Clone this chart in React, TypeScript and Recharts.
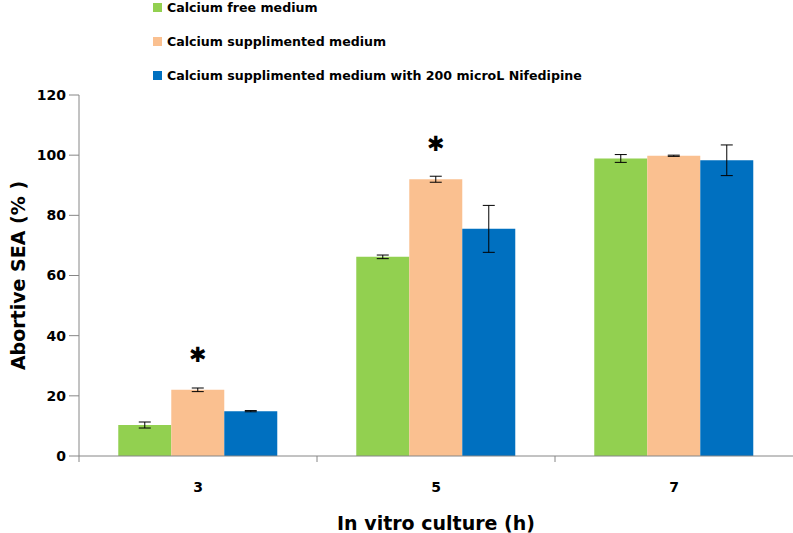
import { Bar, BarChart, ErrorBar, LabelList, XAxis, YAxis } from 'recharts';

const categories = ['3', '5', '7'];
const freeValues = [10.3, 66.2, 98.9];
const freeErrors = [1.0, 0.6, 1.3];
const suppValues = [22.0, 92.0, 99.8];
const suppErrors = [0.6, 1.0, 0.2];
const nifeValues = [14.9, 75.5, 98.3];
const nifeErrors = [0.2, 7.8, 5.1];
const significant = [true, true, false];
const yTicks = [0, 20, 40, 60, 80, 100, 120];

const series = [
  { key: 'free', name: 'Calcium free medium', color: '#92D050' },
  { key: 'supp', name: 'Calcium supplimented medium', color: '#FAC090' },
  { key: 'nife', name: 'Calcium supplimented medium with 200 microL Nifedipine', color: '#0070C0' },
];

const data = categories.map((hour, i) => ({
  hour,
  free: freeValues[i],
  freeErr: freeErrors[i],
  supp: suppValues[i],
  suppErr: suppErrors[i],
  nife: nifeValues[i],
  nifeErr: nifeErrors[i],
  sig: significant[i],
}));

const font = '"DejaVu Sans", Verdana, sans-serif';
const axisColor = '#868686';

// legend sits above the plot, drawn as plain html so it takes no room from the chart
function LegendBox() {
  return (
    <div
      style={{
        position: 'absolute',
        top: -10,
        left: 153,
        fontFamily: font,
        fontWeight: 'bold',
        fontSize: 12.6,
        color: '#000',
      }}
    >
      {series.map((s) => (
        <div key={s.key} style={{ display: 'flex', alignItems: 'center', height: 34 }}>
          <span style={{ width: 9, height: 9, background: s.color, marginRight: 5 }} />
          <span>{s.name}</span>
        </div>
      ))}
    </div>
  );
}

function CategoryTick(props: any) {
  const { x, y, payload } = props;
  const edge = x - (payload.offset ?? 0);
  return (
    <g>
      <line x1={edge} y1={y - 8} x2={edge} y2={y - 2} stroke={axisColor} />
      <text x={x} y={y + 28} textAnchor="middle" fontFamily={font} fontWeight="bold" fontSize={14} fill="#000">
        {payload.value}
      </text>
    </g>
  );
}

function Asterisk(props: any) {
  const { x, y, width, index } = props;
  if (!data[index]?.sig) return null;
  return (
    <text
      x={x + width / 2}
      y={y - 35}
      textAnchor="middle"
      dominantBaseline="central"
      fontFamily={font}
      fontWeight="bold"
      fontSize={21}
      fill="#000"
    >
      ✱
    </text>
  );
}

export default function App() {
  return (
    <div style={{ position: 'absolute', left: 0, top: 0, width: 793, height: 533, background: '#fff' }}>
      <LegendBox />
      <BarChart
        width={793}
        height={533}
        data={data}
        margin={{ top: 95, right: 0, left: 0, bottom: 0 }}
        barCategoryGap="16.5%"
        barGap={0}
      >
        <XAxis
          dataKey="hour"
          height={77}
          stroke={axisColor}
          tickLine={false}
          tick={<CategoryTick />}
          interval={0}
          label={{
            value: 'In vitro culture (h)',
            position: 'insideBottom',
            offset: 3,
            style: { fontFamily: font, fontWeight: 'bold', fontSize: 19, fill: '#000' },
          }}
        />
        <YAxis
          width={79}
          domain={[0, 120]}
          ticks={yTicks}
          stroke={axisColor}
          tickSize={10}
          tickMargin={3}
          tick={{ fontFamily: font, fontWeight: 'bold', fontSize: 14, fill: '#000' }}
          label={{
            value: 'Abortive SEA (% )',
            angle: -90,
            position: 'insideLeft',
            offset: 18,
            style: { textAnchor: 'middle', fontFamily: font, fontWeight: 'bold', fontSize: 19, fill: '#000' },
          }}
        />
        {series.map((s) => (
          <Bar key={s.key} dataKey={s.key} name={s.name} fill={s.color} isAnimationActive={false}>
            <ErrorBar dataKey={`${s.key}Err`} width={6} stroke="#000" strokeWidth={1} />
            {s.key === 'supp' && <LabelList dataKey="supp" content={<Asterisk />} />}
          </Bar>
        ))}
      </BarChart>
    </div>
  );
}
